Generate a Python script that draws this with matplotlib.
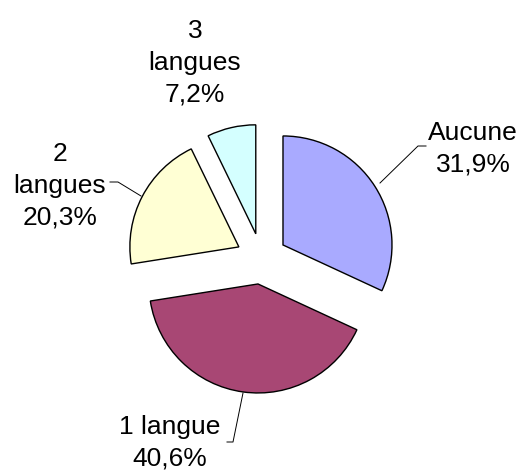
import matplotlib
matplotlib.use("Agg")
import matplotlib.pyplot as plt

# data ---------------------------------------------------------------
categories = ["Aucune", "1 langue", "2 langues", "3 langues"]
shares = [31.9, 40.6, 20.3, 7.2]
colors = ["#A9AAFF", "#A84774", "#FFFFD4", "#D4FFFF"]
label_text = ["Aucune\n31,9%", "1 langue\n40,6%", "2\nlangues\n20,3%", "3\nlangues\n7,2%"]

# layout in pixels (figure is 524x473) -------------------------------
W, H = 524, 473
CX, CY, R = 261.5, 258.7, 109.0


def px(x, y):
    # pixel position -> data units (pie radius = 1)
    return (x - CX) / R, (CY - y) / R


plt.rcParams["font.family"] = ["Liberation Sans", "DejaVu Sans"]
fig = plt.figure(figsize=(W / 100, H / 100), dpi=100)
ax = fig.add_axes([0, 0, 1, 1])

ax.pie(shares, colors=colors, startangle=90, counterclock=False,
       explode=[0.234] * 4, radius=1, center=(0, 0),
       wedgeprops=dict(edgecolor="black", linewidth=1.0))

# labels
label_pos = [(473, 149), (170, 443), (60, 186), (195, 63)]
for txt, (x, y) in zip(label_text, label_pos):
    ax.text(*px(x, y), txt, ha="center", va="center", fontsize=19,
            linespacing=1.42)

# leader lines
leaders = [
    [(380, 183), (418, 146), (426, 146)],
    [(141, 196), (118, 182), (110, 182)],
    [(243, 393), (233, 442), (227, 442)],
]
for pts in leaders:
    xs, ys = zip(*[px(x, y) for x, y in pts])
    ax.plot(xs, ys, color="black", linewidth=0.7)

x0, y0 = px(0, H)
x1, y1 = px(W, 0)
ax.set_xlim(x0, x1)
ax.set_ylim(y0, y1)
ax.set_aspect("auto")
ax.axis("off")

fig.savefig("out.png", dpi=100, facecolor="white")
